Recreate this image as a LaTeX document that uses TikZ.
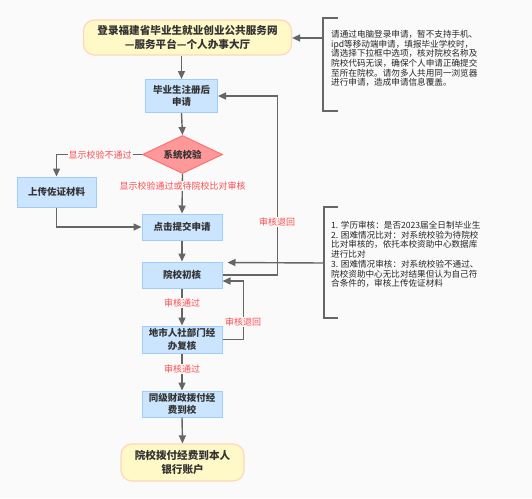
\documentclass[tikz,border=0pt]{standalone}
\usepackage{fontspec}
\setmainfont{Noto Sans CJK SC}
\usetikzlibrary{arrows.meta,shapes.geometric,calc}
\definecolor{bg}{HTML}{FAFAFA}
\definecolor{bfill}{HTML}{CCE5FF}
\definecolor{bdraw}{HTML}{9FCCFA}
\definecolor{yfill}{HTML}{FFF9C8}
\definecolor{ydraw}{HTML}{FFD6B8}
\definecolor{dfill}{HTML}{FF9999}
\definecolor{ddraw}{HTML}{FF7070}
\definecolor{lncol}{HTML}{666666}
\definecolor{txt}{HTML}{333333}
\definecolor{lblred}{HTML}{FF4D4F}
\tikzset{
  box/.style={draw=bdraw, fill=bfill, line width=1pt, minimum width=80pt, minimum height=26pt, inner sep=0pt, align=center, text=txt, font=\fontsize{9.5}{12.5}\selectfont\bfseries},
  term/.style={draw=ydraw, fill=yfill, line width=1.2pt, rounded corners=11pt, inner sep=0pt, align=center, text=txt, font=\fontsize{10.6}{13.5}\selectfont\bfseries},
  dia/.style={diamond, draw=ddraw, fill=dfill, line width=1pt, minimum width=80pt, minimum height=38pt, aspect=2.1, inner sep=0pt, text=txt, font=\fontsize{9.5}{12}\selectfont\bfseries},
  line/.style={draw=lncol, line width=1.4pt},
  arr/.style={line, -{Triangle[length=8pt,width=7pt]}},
  lbl/.style={text=lblred, fill=bg, inner sep=1pt, font=\fontsize{9}{11}\selectfont},
  note/.style={align=left, inner sep=0pt, text=black!85, font=\fontsize{8.6}{9.7}\selectfont}
}
\begin{document}
\begin{tikzpicture}[x=1pt,y=-1pt]
\fill[bg] (0,0) rectangle (532,498);
\useasboundingbox (0,0) rectangle (532,498);

\node[term, minimum width=208pt, minimum height=35pt] (top) at (187.5,37.5) {登录福建省毕业生就业创业公共服务网\\—服务平台—个人办事大厅};
\node[box, minimum width=72pt, minimum height=33pt] (reg) at (181.5,96) {毕业生注册后\\申请};
\node[dia] (chkd) at (182.5,154.5) {系统校验};
\node[box, minimum width=79pt, minimum height=30pt] (up) at (56.5,192) {上传佐证材料};
\node[box] (sub) at (182,227) {点击提交申请};
\node[box] (chk) at (182,275) {院校初核};
\node[box, minimum height=27pt] (rev) at (182,339.5) {地市人社部门经\\办复核};
\node[box] (fin) at (182,404) {同级财政拨付经\\费到校};
\node[term, minimum width=123pt, minimum height=37pt] (end) at (182.5,462.5) {院校拨付经费到本人\\银行账户};

% main flow
\draw[arr] (top.south -| reg) -- (reg.north);
\draw[arr] (reg.south) -- (chkd.north);
\draw[arr] (chkd.south) -- (sub.north);
\draw[arr] (sub.south) -- (chk.north);
\draw[arr] (chk.south) -- (rev.north);
\draw[arr] (rev.south) -- (fin.north);
\draw[arr] (fin.south) -- (end.north);

% branch
\draw[arr] (chkd.west) -| (up.north);
\draw[arr] (up.south) |- (sub.west);

% returns
\draw[arr] (chk.east) -- ++(55,0) |- (reg.east);
\coordinate (chkin) at ($(chk.east)+(0,6)$);
\draw[arr] (rev.east) -- ++(21,0) |- (chkin);

% labels
\node[lbl] (l1) at (100,155) {显示校验不通过};
\node[lbl] (l2) at (182.5,186) {显示校验通过或待院校比对审核};
\node[lbl] (l3) at (277,222) {审核退回};
\node[lbl] (l4) at (182,303) {审核通过};
\node[lbl] (l5) at (243,322) {审核退回};
\node[lbl] (l6) at (182,369) {审核通过};

% note 1
\node[note, anchor=north west] (n1) at (331,30) {请通过电脑登录申请，暂不支持手机、\\ipd等移动端申请，填报毕业学校时，\\请选择下拉框中选项，核对院校名称及\\院校代码无误，确保个人申请正确提交\\至所在院校。请勿多人共用同一浏览器\\进行申请，造成申请信息覆盖。};
\draw[line] (338,18) -- (323,18) -- (323,111) -- (338,111);
\coordinate (n1c) at (323,38);
\draw[arr] (n1c) -- (top.east |- n1c);

% note 2
\node[note, anchor=north west] (n2) at (331,221) {1. 学历审核：是否2023届全日制毕业生\\2. 困难情况比对：对系统校验为待院校\\比对审核的，依托本校资助中心数据库\\进行比对\\3. 困难情况审核：对系统校验不通过、\\院校资助中心无比对结果但认为自己符\\合条件的，审核上传佐证材料};
\draw[line] (338,207) -- (324,207) -- (324,318) -- (338,318);
\coordinate (n2c) at (324,263);
\coordinate (chktop) at ($(chk.north east)+(5,1)$);
\draw[arr] (n2c) -- (chktop);
\end{tikzpicture}
\end{document}
